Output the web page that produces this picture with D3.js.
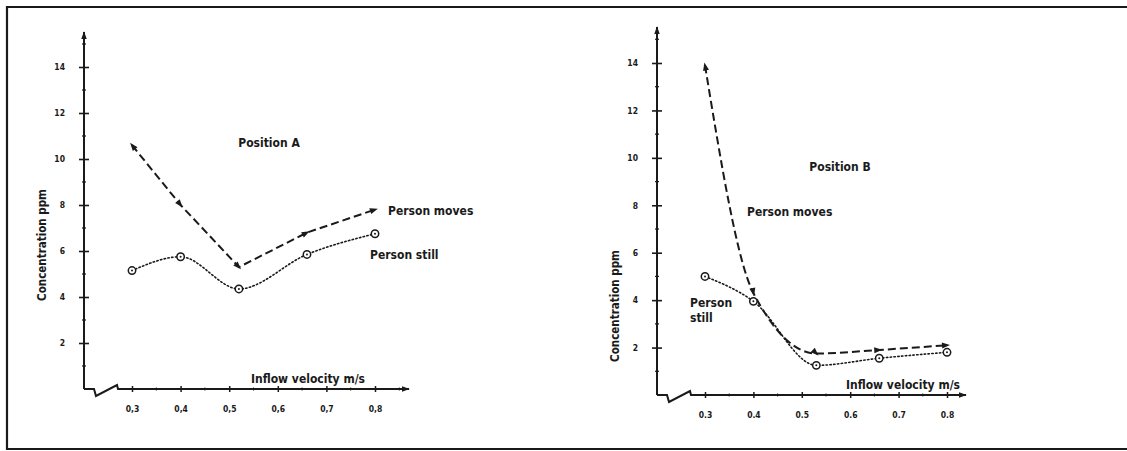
<!DOCTYPE html>
<html><head><meta charset="utf-8">
<script src="https://cdn.jsdelivr.net/npm/d3@7"></script>
<style>
html,body{margin:0;padding:0;background:#fff;overflow:hidden;}
svg{display:block;}
text{font-family:"DejaVu Sans Condensed","DejaVu Sans",sans-serif;font-weight:bold;fill:#1a1a1a;}
</style></head>
<body>
<svg id="c" width="1127" height="451"></svg>
<script>
const velocities = [0.3, 0.4, 0.52, 0.66, 0.8];
const velocitiesB = [0.3, 0.4, 0.53, 0.66, 0.8];
const movesA = [10.6, 8.0, 5.3, 6.8, 7.8];
const stillA = [5.15, 5.75, 4.35, 5.85, 6.75];
const movesB = [13.9, 4.3, 1.75, 1.9, 2.1];
const stillB = [5.0, 3.95, 1.25, 1.55, 1.8];
const xTicks = [0.3, 0.4, 0.5, 0.6, 0.7, 0.8];
const xMinor = [0.25, 0.35, 0.45, 0.55, 0.65, 0.75, 0.85];
const yTicks = [2, 4, 6, 8, 10, 12, 14];
const yMinor = [1, 3, 5, 7, 9, 11, 13, 15];
const xTickLabelsA = ["0,3", "0,4", "0,5", "0,6", "0,7", "0,8"];
const xTickLabelsB = ["0.3", "0.4", "0.5", "0.6", "0.7", "0.8"];

const svg = d3.select("#c");
const ink = "#1a1a1a";

// frame (right edge runs off the page)
svg.append("path").attr("d", "M1140,7H7V449H1140")
  .attr("fill", "none").attr("stroke", ink).attr("stroke-width", 2.2);

const defs = svg.append("defs");
defs.append("marker").attr("id", "axArrow").attr("viewBox", "0 0 10 10").attr("refX", 9).attr("refY", 5)
  .attr("markerWidth", 8).attr("markerHeight", 8).attr("markerUnits", "userSpaceOnUse").attr("orient", "auto")
  .append("path").attr("d", "M0,1.5L10,5L0,8.5Z").attr("fill", ink);

function panel(cfg) {
  const g = svg.append("g");
  const x = d3.scaleLinear().domain([0.3, 0.8]).range([cfg.x03, cfg.x08]);
  const y = d3.scaleLinear().domain([0, 14]).range([cfg.y0, cfg.y14]);
  const ax = cfg.axisX, ay = cfg.y0;

  // y axis
  g.append("line").attr("x1", ax).attr("x2", ax).attr("y1", ay).attr("y2", cfg.yTop)
    .attr("stroke", ink).attr("stroke-width", 2).attr("marker-end", "url(#axArrow)");
  const yAxis = d3.axisLeft(y).tickValues(yTicks).tickSize(5).tickPadding(14).tickFormat(d3.format("d"));
  const ya = g.append("g").attr("transform", `translate(${ax},0)`).call(yAxis);
  ya.select(".domain").remove();
  ya.selectAll(".tick line").attr("x1", 5).attr("stroke", ink).attr("stroke-width", 1.6);
  ya.selectAll(".tick text").style("font-size", "8.5px").attr("fill", ink);
  g.selectAll(".yminor").data(yMinor).join("line")
    .attr("x1", ax - 2).attr("x2", ax + 2).attr("y1", d => y(d)).attr("y2", d => y(d))
    .attr("stroke", ink).attr("stroke-width", 1.2);

  // x axis with break
  const bx = ax;
  g.append("path")
    .attr("d", `M${bx},${ay}H${bx + 10}L${bx + 12},${ay + 7}L${bx + 33},${ay - 4}L${bx + 34},${ay}H${cfg.xEnd}`)
    .attr("fill", "none").attr("stroke", ink).attr("stroke-width", 2).attr("marker-end", "url(#axArrow)");
  const xAxis = d3.axisBottom(x).tickValues(xTicks).tickSize(3).tickPadding(14)
    .tickFormat((d, i) => cfg.xLabels[i]);
  const xa = g.append("g").attr("transform", `translate(0,${ay})`).call(xAxis);
  xa.select(".domain").remove();
  xa.selectAll(".tick line").attr("y1", -3).attr("stroke", ink).attr("stroke-width", 1.5);
  xa.selectAll(".tick text").style("font-size", "8.5px").attr("fill", ink);
  g.selectAll(".xminor").data(xMinor.filter(d => x(d) > ax + 40 && x(d) < cfg.xEnd - 8)).join("line")
    .attr("x1", d => x(d)).attr("x2", d => x(d)).attr("y1", ay - 1.5).attr("y2", ay + 1.5)
    .attr("stroke", ink).attr("stroke-width", 1);

  // lines
  const lineMoves = d3.line().x((d, i) => x(cfg.vx[i])).y(d => y(d)).curve(cfg.movesCurve);
  const lineStill = d3.line().x((d, i) => x(cfg.vx[i])).y(d => y(d)).curve(d3.curveMonotoneX);
  g.append("path").attr("d", lineStill(cfg.still)).attr("fill", "none").attr("stroke", ink)
    .attr("stroke-width", 1.6).attr("stroke-dasharray", "1.4,2.4").attr("stroke-linecap", "round");
  g.append("path").attr("d", lineMoves(cfg.moves)).attr("fill", "none").attr("stroke", ink)
    .attr("stroke-width", 2).attr("stroke-dasharray", "8,4");
  // arrow markers at points
  cfg.moves.forEach((v, i) => {
    let ang;
    if (i === 0) {
      ang = Math.atan2(y(v) - y(cfg.moves[1]), x(cfg.vx[0]) - x(cfg.vx[1]));
    } else {
      ang = Math.atan2(y(v) - y(cfg.moves[i - 1]), x(cfg.vx[i]) - x(cfg.vx[i - 1]));
    }
    const px = x(cfg.vx[i]), py = y(v);
    g.append("path").attr("d", "M-5,-3L3,0L-5,3Z").attr("fill", ink)
      .attr("transform", `translate(${px},${py}) rotate(${ang * 180 / Math.PI})`);
  });
  // circles
  g.selectAll(".stillpt").data(cfg.still).join("circle")
    .attr("cx", (d, i) => x(cfg.vx[i])).attr("cy", d => y(d)).attr("r", 3.7)
    .attr("fill", "#fff").attr("stroke", ink).attr("stroke-width", 1.5);
  g.selectAll(".stilldot").data(cfg.still).join("circle")
    .attr("cx", (d, i) => x(cfg.vx[i])).attr("cy", d => y(d)).attr("r", 1).attr("fill", ink);

  // labels
  g.append("text").attr("x", cfg.title[0]).attr("y", cfg.title[1]).attr("text-anchor", "middle")
    .style("font-size", "12px").text(cfg.titleText);
  g.append("text").attr("transform", `translate(${cfg.ylab[0]},${cfg.ylab[1]}) rotate(-90)`)
    .attr("text-anchor", "middle").style("font-size", "11.5px").text("Concentration ppm");
  g.append("text").attr("x", cfg.xlab[0]).attr("y", cfg.xlab[1])
    .style("font-size", "12px").text("Inflow velocity m/s");
  cfg.texts.forEach(t => {
    g.append("text").attr("x", t[0]).attr("y", t[1]).style("font-size", "12px").text(t[2]);
  });
}

panel({
  x03: 132, x08: 375, y0: 389, y14: 67, axisX: 84, yTop: 32, xEnd: 409,
  vx: velocities, moves: movesA, still: stillA, movesCurve: d3.curveLinear,
  xLabels: xTickLabelsA, titleText: "Position A", title: [269, 147],
  ylab: [46, 245], xlab: [251, 383],
  texts: [[388, 215, "Person moves"], [370, 259, "Person still"]]
});
panel({
  x03: 705, x08: 947, y0: 395, y14: 63, axisX: 657, yTop: 27, xEnd: 966,
  vx: velocitiesB, moves: movesB, still: stillB, movesCurve: d3.curveMonotoneX,
  xLabels: xTickLabelsB, titleText: "Position B", title: [840, 171],
  ylab: [619, 306], xlab: [846, 389],
  texts: [[747, 216, "Person moves"], [690, 307, "Person"], [690, 322, "still"]]
});
</script>
</body></html>
